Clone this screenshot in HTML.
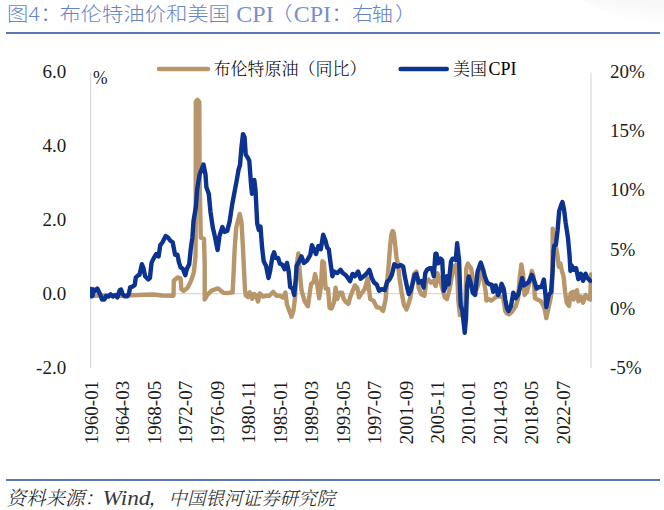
<!DOCTYPE html>
<html><head><meta charset="utf-8">
<style>
html,body{margin:0;padding:0;background:#fff;width:664px;height:510px;overflow:hidden}
svg{display:block}
.ttl{font-family:"Noto Sans CJK SC",sans-serif;font-weight:300;font-size:21.4px;fill:#6684c4}
.tc{font-family:"Liberation Serif",serif;font-size:24px;font-weight:400;fill:#7890c8}
.ser{font-family:"Liberation Serif","Noto Serif CJK SC",serif}
.ax{font-family:"Liberation Serif",serif;font-size:19px;fill:#1c1c1c}
.lg{font-family:"Liberation Serif","Noto Serif CJK SC",serif;font-size:17px;font-weight:300;fill:#000}
.src{font-family:"Liberation Serif","Noto Serif CJK SC",serif;font-size:19.5px;font-weight:300;font-style:italic;fill:#222}
</style></head>
<body>
<svg width="664" height="510" viewBox="0 0 664 510">
<defs><linearGradient id="tr" x1="0" y1="1" x2="0.35" y2="0"><stop offset="0" stop-color="#fff" stop-opacity="0"/><stop offset="1" stop-color="#f8f8f8"/></linearGradient></defs>
<path d="M582 0 Q615 20 664 26 L664 0 Z" fill="url(#tr)"/>
<g transform="translate(0.5 21.3) scale(1 0.9)">
<text class="ttl" x="6.6" y="0">图</text>
<text class="ttl" x="28" y="0">4</text>
<text class="ttl" x="39.7" y="0">：</text>
<text class="ttl" x="59" y="0" textLength="170.4" lengthAdjust="spacing">布伦特油价和美国</text>
<text class="ttl" x="270.5" y="0">（</text>
<text class="ttl" x="330.8" y="0">：</text>
<text class="ttl" x="351.4" y="0">右</text>
<text class="ttl" x="371" y="0">轴</text>
<text class="ttl" x="394.5" y="0">）</text>
</g>
<text class="ttl tc" x="236.3" y="21.8">CPI</text>
<text class="ttl tc" x="293.7" y="21.8">CPI</text>
<rect x="6" y="32" width="654" height="2" fill="#5b77b1"/>
<!-- legend -->
<line x1="159" y1="69" x2="208" y2="69" stroke="#b8966a" stroke-width="4.5" stroke-linecap="round"/>
<text class="lg" x="213.5" y="75">布伦特原油（同比）</text>
<line x1="400.6" y1="69" x2="446.8" y2="69" stroke="#0d3390" stroke-width="4.4" stroke-linecap="round"/>
<text class="lg" x="453" y="75">美国<tspan dx="1.5" style="font-size:18px;font-weight:400">CPI</tspan></text>
<!-- axes -->
<line x1="90.6" y1="72.5" x2="90.6" y2="368" stroke="#d9d9d9" stroke-width="1.2"/>
<line x1="591" y1="72.5" x2="591" y2="368" stroke="#d9d9d9" stroke-width="1.2"/>
<line x1="90.6" y1="293.7" x2="591" y2="293.7" stroke="#d9d9d9" stroke-width="1.2"/>
<!--LINES-->
<clipPath id="pc"><rect x="90.1" y="60" width="502" height="320"/></clipPath><g clip-path="url(#pc)">
<polyline fill="none" stroke="#b8966a" stroke-width="4.4" stroke-linejoin="round" stroke-linecap="round" points="91.0,295.5 120.0,295.8 131.4,295.3 144.3,294.7 154.0,294.5 162.0,295.5 173.5,295.8 173.8,280.7 177.5,277.5 180.6,278.3 181.4,289.3 183.7,290.9 187.6,287.7 190.8,281.5 193.9,272.1 195.5,256.4 195.7,230.0 195.8,102.0 197.5,99.9 199.3,102.0 199.6,180.0 200.8,237.7 204.0,238.8 204.7,264.7 204.7,299.5 207.3,294.9 211.6,290.6 218.0,288.4 223.4,292.8 227.3,293.1 232.6,292.3 233.5,275.0 234.6,250.0 236.2,228.0 237.6,222.0 239.7,214.0 241.5,222.0 242.8,245.0 244.0,270.0 245.0,290.0 245.8,295.5 248.2,297.1 249.8,292.3 252.2,298.7 254.0,293.9 255.6,295.0 258.0,301.5 259.7,293.4 262.9,296.6 266.1,295.8 269.3,295.8 273.3,291.8 276.5,295.8 279.8,295.8 283.0,297.5 285.4,292.6 287.0,304.7 289.4,311.1 291.5,316.8 293.4,311.1 295.0,298.3 296.6,266.1 298.3,253.5 299.9,274.1 301.5,290.2 304.7,301.5 307.9,306.3 309.5,295.0 311.1,283.8 313.5,282.2 315.1,274.1 316.8,282.2 319.2,298.3 320.8,287.0 322.4,261.3 324.0,262.9 325.6,288.6 328.0,288.6 329.6,307.9 331.6,308.6 334.0,302.2 335.6,287.7 337.2,299.0 339.7,292.6 342.1,292.6 343.7,299.0 346.1,302.2 348.5,303.8 350.1,297.4 352.5,291.0 354.9,285.3 357.3,287.7 359.0,297.4 361.4,293.4 364.6,289.3 367.8,278.1 370.2,299.0 373.4,300.6 376.6,307.0 379.9,307.8 383.1,311.0 385.5,300.0 387.3,280.0 388.6,266.0 390.2,245.0 391.5,234.0 392.6,231.0 393.8,233.0 395.2,245.0 396.5,258.0 398.0,264.0 399.5,278.0 401.5,292.0 404.0,305.0 406.5,309.5 408.8,303.0 410.4,297.4 412.4,284.0 414.0,274.0 416.4,271.6 418.8,288.5 421.3,294.2 424.5,295.8 426.1,282.0 428.5,279.5 430.9,282.7 433.3,281.1 435.7,286.0 437.3,273.1 439.8,280.0 442.2,287.7 444.6,297.0 447.0,299.0 449.4,290.0 451.0,281.1 453.4,266.6 455.8,265.0 457.5,280.0 458.3,300.0 459.9,315.1 461.5,313.5 463.5,312.0 465.5,302.2 466.3,268.4 467.9,263.6 471.1,268.4 473.5,282.7 475.9,290.8 478.4,284.3 480.8,266.6 483.2,277.9 485.6,290.8 486.4,300.6 488.8,299.0 491.2,300.6 492.4,299.9 496.4,296.6 499.7,296.6 503.0,297.0 505.3,311.1 506.9,313.5 509.3,314.3 512.5,311.1 515.7,306.3 518.1,298.3 519.8,277.3 521.4,264.5 523.0,274.1 524.6,295.0 527.0,291.8 529.4,282.2 531.8,270.9 533.4,275.7 535.0,298.3 538.3,299.9 540.7,301.0 543.1,305.0 544.7,309.0 546.3,318.0 548.6,307.5 551.0,296.5 551.9,290.0 552.5,271.4 552.7,228.6 554.5,240.0 557.3,254.1 558.8,266.7 560.4,263.5 562.0,271.4 563.5,276.1 565.1,291.8 566.7,302.7 569.0,305.9 570.6,293.3 572.9,291.8 573.7,299.6 576.9,290.2 578.4,301.2 580.8,296.5 583.1,302.7 585.5,294.9 588.6,298.8 590.2,299.6 591.0,274.5"/>
<polyline fill="none" stroke="#0d3390" stroke-width="4.4" stroke-linejoin="round" stroke-linecap="round" points="91.3,289.0 91.3,296.3 92.5,296.0 93.5,289.5 95.0,291.0 97.3,288.5 98.5,291.0 100.0,294.0 102.0,299.5 104.5,299.5 106.0,296.0 108.3,296.6 110.6,294.3 112.8,296.6 115.1,295.1 117.4,297.4 119.6,290.3 121.1,289.6 122.6,294.1 124.9,296.4 127.2,296.4 129.0,293.3 130.2,287.3 132.4,286.6 134.7,285.1 135.8,277.5 137.9,275.5 139.5,274.7 141.9,264.2 143.5,268.3 145.1,276.3 148.3,279.5 149.9,277.9 151.6,262.6 153.9,257.9 156.3,254.0 158.6,256.4 160.2,245.4 162.5,242.3 165.7,236.0 168.0,237.5 170.4,240.7 172.7,242.3 175.1,254.8 177.5,254.8 179.0,262.6 180.6,267.4 182.9,268.9 185.3,275.2 186.9,268.9 189.2,264.2 190.8,248.5 192.4,237.5 193.5,221.1 195.9,206.6 197.2,189.2 199.6,174.5 203.5,164.5 205.5,174.5 206.4,187.3 208.8,193.8 210.5,212.0 212.8,227.6 215.2,238.0 217.6,250.0 219.5,236.0 222.4,227.0 224.5,232.0 227.3,230.8 229.7,221.1 232.1,205.0 234.5,192.2 236.9,179.3 238.5,170.0 240.0,165.0 241.5,146.7 243.0,134.1 244.6,137.3 245.7,154.5 247.7,157.6 249.3,160.8 250.9,182.7 252.0,193.7 253.2,192.2 254.3,180.0 255.5,190.0 257.2,223.4 258.8,229.9 260.5,226.6 262.1,247.6 263.7,261.3 266.1,266.1 268.5,278.1 270.1,270.9 272.5,256.4 274.1,252.4 275.7,258.0 278.1,258.0 279.8,263.7 282.2,264.5 284.6,269.3 287.0,262.9 288.6,270.9 290.2,287.0 292.6,288.6 294.2,295.0 295.8,279.0 296.6,266.1 299.1,261.3 301.5,256.4 303.9,262.9 307.1,260.5 310.3,254.8 311.9,245.1 314.3,250.8 316.0,254.0 318.4,246.0 320.8,249.2 323.2,234.7 325.6,241.1 327.2,247.6 328.8,249.2 330.4,262.0 332.4,276.3 334.0,271.5 337.2,273.1 340.5,269.9 342.9,273.1 346.1,275.5 350.1,281.1 352.5,273.9 354.9,276.3 358.1,271.5 360.6,278.7 363.8,276.3 367.0,273.1 369.4,269.9 371.8,277.9 374.2,282.7 376.6,284.3 379.1,290.8 381.5,289.2 384.7,290.0 387.1,281.9 389.5,279.5 391.9,274.7 394.3,264.2 397.6,266.6 400.8,265.0 403.2,266.6 404.8,276.3 407.2,287.6 408.8,294.0 410.5,291.0 412.4,284.3 414.8,274.7 416.4,273.9 418.8,282.7 421.3,281.1 423.7,287.6 425.3,273.1 426.9,269.9 429.3,268.3 431.7,268.3 433.8,276.3 435.4,253.8 436.5,253.8 438.1,263.4 440.6,258.6 442.2,260.2 443.8,290.8 445.4,287.6 447.0,276.3 448.6,284.3 451.0,261.8 452.6,258.6 454.2,258.6 455.8,260.2 457.1,243.3 459.1,260.2 459.9,284.3 460.7,305.4 462.3,310.3 463.9,324.7 464.7,332.8 466.0,318.3 467.1,286.1 468.7,276.5 471.1,284.5 472.7,292.6 475.1,295.0 477.6,271.5 480.8,262.6 483.2,269.9 484.8,276.3 487.2,282.7 489.6,284.3 491.6,284.6 493.2,291.8 495.6,285.4 498.0,295.0 499.7,291.8 501.6,283.8 503.7,288.6 505.3,299.9 506.9,307.9 508.5,311.1 510.9,306.3 513.3,292.6 515.7,298.3 518.1,295.0 519.8,288.6 522.2,278.1 523.8,285.4 526.2,283.8 528.6,282.2 531.8,274.9 534.2,280.6 536.6,288.6 539.1,287.0 541.5,287.0 543.9,279.5 545.5,295.0 546.3,307.0 548.7,295.0 551.1,292.0 552.7,269.3 553.5,251.1 554.3,245.5 555.9,244.7 557.6,230.2 559.2,210.9 560.8,206.1 562.4,202.1 564.0,209.3 565.6,222.2 568.0,238.3 569.6,256.0 570.4,271.0 571.4,265.1 573.7,269.8 576.1,268.2 578.4,279.2 580.8,273.7 583.1,280.8 585.5,273.7 587.1,277.6 590.2,280.8"/>
</g>
<!--/LINES-->
<g class="ax" text-anchor="end">
<text x="66.2" y="77.8">6.0</text>
<text x="66.2" y="151.9">4.0</text>
<text x="66.2" y="226">2.0</text>
<text x="66.2" y="300">0.0</text>
<text x="66.2" y="374.1">-2.0</text>
</g>
<text class="ax" x="93" y="84" textLength="14.6" lengthAdjust="spacingAndGlyphs">%</text>
<g class="ax">
<text x="610" y="78">20%</text>
<text x="610" y="137.2">15%</text>
<text x="610" y="196.4">10%</text>
<text x="610" y="255.6">5%</text>
<text x="610" y="315">0%</text>
<text x="610" y="374.2">-5%</text>
</g>
<g class="ax" text-anchor="end" id="xl">
<text transform="translate(97.60 380.8) rotate(-90)">1960-01</text>
<text transform="translate(129.09 380.8) rotate(-90)">1964-03</text>
<text transform="translate(160.58 380.8) rotate(-90)">1968-05</text>
<text transform="translate(192.07 380.8) rotate(-90)">1972-07</text>
<text transform="translate(223.56 380.8) rotate(-90)">1976-09</text>
<text transform="translate(255.05 380.8) rotate(-90)">1980-11</text>
<text transform="translate(286.54 380.8) rotate(-90)">1985-01</text>
<text transform="translate(318.03 380.8) rotate(-90)">1989-03</text>
<text transform="translate(349.52 380.8) rotate(-90)">1993-05</text>
<text transform="translate(381.01 380.8) rotate(-90)">1997-07</text>
<text transform="translate(412.50 380.8) rotate(-90)">2001-09</text>
<text transform="translate(443.99 380.8) rotate(-90)">2005-11</text>
<text transform="translate(475.48 380.8) rotate(-90)">2010-01</text>
<text transform="translate(506.97 380.8) rotate(-90)">2014-03</text>
<text transform="translate(538.46 380.8) rotate(-90)">2018-05</text>
<text transform="translate(569.95 380.8) rotate(-90)">2022-07</text>
</g>
<rect x="6" y="479" width="654" height="2" fill="#5b77b1"/>
<text class="src" x="6.5" y="505">资料来源：<tspan x="102.5" style="font-size:21px;fill:#3a3a3a" textLength="48" lengthAdjust="spacingAndGlyphs">Wind</tspan><tspan x="148.5">，</tspan><tspan x="168.5" style="font-size:18.5px">中国银河证券研究院</tspan></text>
</svg>
</body></html>
